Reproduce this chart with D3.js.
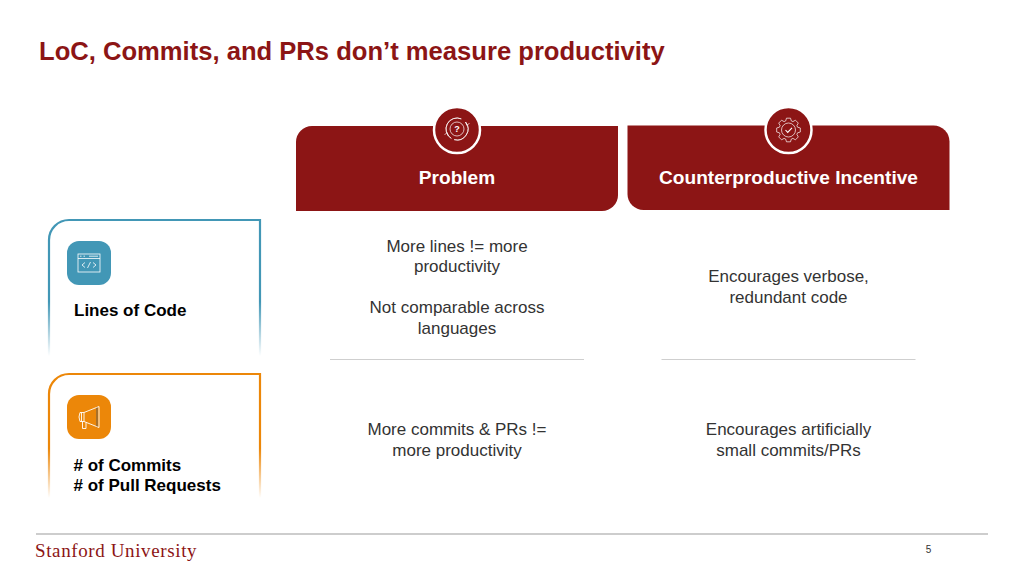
<!DOCTYPE html>
<html>
<head><meta charset="utf-8"></head>
<body style="margin: 0; background: white;">
<script src="https://d3js.org/d3.v7.min.js"></script>
<svg id="vis"></svg>

<script>

  /***** DATA *****/

  var titleText = 'LoC, Commits, and PRs don\u2019t measure productivity'
  var columns = ['Problem', 'Counterproductive Incentive']
  var rows = ['loc', 'commits']
  var rowLabels = [['Lines of Code'], ['# of Commits', '# of Pull Requests']]
  var problemCells = [
    ['More lines != more', 'productivity', '', 'Not comparable across', 'languages'],
    ['More commits & PRs !=', 'more productivity']
  ]
  var incentiveCells = [
    ['Encourages verbose,', 'redundant code'],
    ['Encourages artificially', 'small commits/PRs']
  ]
  var footerText = 'Stanford University'
  var pageNumber = '5'


  /***** SETUP *****/

  var red = '#8c1515'
  var bodyFont = '"Liberation Sans", Arial, sans-serif'

  var svg = d3.select('#vis')
    .attr('width', 1024)
    .attr('height', 576)
    .style('display', 'block')
    .style('background-color', 'white')

  var defs = svg.append('defs')

  // Column and row centres
  var colX = d3.scaleOrdinal().domain(columns).range([457, 788.5])
  var rowY = d3.scaleOrdinal().domain(rows).range([287, 439.5])
  var rowColor = d3.scaleOrdinal().domain(rows).range(['#4297b6', '#ec8709'])
  var cardTop = d3.scaleOrdinal().domain(rows).range([220, 374])
  var cardBottom = d3.scaleOrdinal().domain(rows).range([356, 498])
  var iconTop = d3.scaleOrdinal().domain(rows).range([241, 395])

  function multiLine(parent, lines, x, yCenter, lineHeight, size, weight, fill, anchor) {
    var y0 = yCenter - (lines.length - 1) * lineHeight / 2
    parent.selectAll(null)
      .data(lines)
      .enter()
      .append('text')
      .text(function (d) { return d })
      .attr('x', x)
      .attr('y', function (d, i) { return y0 + i * lineHeight })
      .attr('dy', '0.35em')
      .attr('text-anchor', anchor)
      .style('font-family', bodyFont)
      .style('font-size', size + 'px')
      .style('font-weight', weight)
      .style('fill', fill)
  }

  // Rectangle with two opposite rounded corners
  function headerPath(x0, y0, x1, y1, r, roundTopLeft) {
    var p = d3.path()
    if (roundTopLeft) {
      p.moveTo(x0 + r, y0)
      p.lineTo(x1, y0)
      p.lineTo(x1, y1 - r)
      p.arcTo(x1, y1, x1 - r, y1, r)
      p.lineTo(x0, y1)
      p.lineTo(x0, y0 + r)
      p.arcTo(x0, y0, x0 + r, y0, r)
    } else {
      p.moveTo(x0, y0)
      p.lineTo(x1 - r, y0)
      p.arcTo(x1, y0, x1, y0 + r, r)
      p.lineTo(x1, y1)
      p.lineTo(x0 + r, y1)
      p.arcTo(x0, y1, x0, y1 - r, r)
      p.lineTo(x0, y0)
    }
    p.closePath()
    return p.toString()
  }


  /***** TITLE *****/

  svg.append('text')
    .text(titleText)
    .attr('x', 39)
    .attr('y', 60)
    .style('font-family', bodyFont)
    .style('font-size', '25.6px')
    .style('font-weight', 700)
    .style('fill', red)


  /***** COLUMN HEADERS *****/

  var headers = svg.selectAll('.header')
    .data(columns)
    .enter()
    .append('g')
    .attr('class', 'header')

  headers.append('path')
    .attr('d', function (d, i) {
      return i === 0 ? headerPath(296, 126, 618, 211, 16, true) : headerPath(627.5, 125.5, 949.5, 210, 16, false)
    })
    .attr('fill', red)

  headers.append('circle')
    .attr('cx', function (d) { return colX(d) })
    .attr('cy', 130)
    .attr('r', 23)
    .attr('fill', red)
    .attr('stroke', 'white')
    .attr('stroke-width', 2.5)

  headers.append('text')
    .text(function (d) { return d })
    .attr('x', function (d) { return colX(d) })
    .attr('y', 177.5)
    .attr('dy', '0.35em')
    .attr('text-anchor', 'middle')
    .style('font-family', bodyFont)
    .style('font-size', '19.1px')
    .style('font-weight', 700)
    .style('fill', 'white')

  // Question icon
  var qIcon = svg.append('g')
    .attr('transform', 'translate(' + colX(columns[0]) + ',129)')
    .attr('fill', 'none')
    .attr('stroke', 'white')
    .attr('stroke-width', 0.7)
  qIcon.append('circle').attr('r', 7)
  qIcon.append('path').attr('d', d3.arc()({innerRadius: 11, outerRadius: 11, startAngle: -2.6, endAngle: 0.4}))
  qIcon.append('path').attr('d', d3.arc()({innerRadius: 11, outerRadius: 11, startAngle: 0.9, endAngle: 3.4}))
  qIcon.append('path').attr('d', 'M8.5,-7 L10,-3.5 L12.5,-6')
  qIcon.append('path').attr('d', 'M-8.5,7 L-10,3.5 L-12.5,6')
  qIcon.append('text')
    .text('?')
    .attr('y', 3)
    .attr('text-anchor', 'middle')
    .style('font-family', bodyFont)
    .style('font-size', '9px')
    .style('font-weight', 700)
    .style('fill', 'white')
    .style('stroke', 'none')

  // Gear icon
  var gIcon = svg.append('g')
    .attr('transform', 'translate(' + colX(columns[1]) + ',130)')
    .attr('fill', 'none')
    .attr('stroke', 'white')
    .attr('stroke-width', 0.7)
  var gearPoints = []
  d3.range(8).forEach(function (i) {
    var a = i * Math.PI / 4
    gearPoints.push([a - 0.3, 9.5], [a - 0.17, 12], [a + 0.17, 12], [a + 0.3, 9.5])
  })
  gIcon.append('path').attr('d', d3.lineRadial().curve(d3.curveLinearClosed)(gearPoints))
  gIcon.append('circle').attr('r', 7)
  gIcon.append('path').attr('d', 'M-3,0 L-0.8,2.4 L3.5,-2.2').attr('stroke-width', 1.1)


  /***** ROW CARDS *****/

  var cards = svg.selectAll('.card')
    .data(rows)
    .enter()
    .append('g')
    .attr('class', 'card')

  // Border fades out toward the bottom of the card
  rows.forEach(function (r) {
    var grad = defs.append('linearGradient')
      .attr('id', 'fade-' + r)
      .attr('gradientUnits', 'userSpaceOnUse')
      .attr('x1', 0).attr('x2', 0)
      .attr('y1', cardTop(r)).attr('y2', cardBottom(r))
    grad.append('stop').attr('offset', '0.6').attr('stop-color', rowColor(r)).attr('stop-opacity', 1)
    grad.append('stop').attr('offset', '1').attr('stop-color', rowColor(r)).attr('stop-opacity', 0)
  })

  cards.append('path')
    .attr('d', function (r) {
      var p = d3.path()
      var rad = 20
      p.moveTo(49, cardBottom(r))
      p.lineTo(49, cardTop(r) + rad)
      p.arcTo(49, cardTop(r), 49 + rad, cardTop(r), rad)
      p.lineTo(260, cardTop(r))
      p.lineTo(260, cardBottom(r))
      return p.toString()
    })
    .attr('fill', 'none')
    .attr('stroke', function (r) { return 'url(#fade-' + r + ')' })
    .attr('stroke-width', 2.2)

  cards.append('rect')
    .attr('x', 67)
    .attr('y', function (r) { return iconTop(r) })
    .attr('width', 44)
    .attr('height', 44)
    .attr('rx', 12)
    .attr('fill', function (r) { return rowColor(r) })

  // Labels
  multiLine(svg.append('g'), rowLabels[0], 74, 310, 20, 17, 700, 'black', 'start')
  multiLine(svg.append('g'), rowLabels[1], 73.5, 475, 20, 17, 700, 'black', 'start')

  // Code window icon
  var codeIcon = svg.append('g')
    .attr('transform', 'translate(89,263)')
    .attr('fill', 'none')
    .attr('stroke', 'white')
    .attr('stroke-width', 0.8)
  codeIcon.append('rect').attr('x', -11).attr('y', -9).attr('width', 22).attr('height', 18)
  codeIcon.append('path').attr('d', 'M-11,-4.5 H11 M-9,-6.8 H-7.5 M-5.5,-6.8 H-4 M0,-6.8 H9')
  codeIcon.append('path').attr('d', 'M-4,-0.5 L-7,2 L-4,4.5 M4,-0.5 L7,2 L4,4.5 M1.5,-1 L-1.5,5')

  // Megaphone icon
  var horn = svg.append('g')
    .attr('transform', 'translate(89,417)')
    .attr('fill', 'none')
    .attr('stroke', 'white')
    .attr('stroke-width', 0.9)
  horn.append('path').attr('d', 'M-5,-4.5 L10,-10.5 V10.5 L-5,4.5 Z')
  horn.append('path').attr('d', 'M-5,-4.5 H-9 Q-11,0 -9,4.5 H-5 M-7.5,-4.5 V4.5')
  horn.append('path').attr('d', 'M-6.5,4.5 V11.5 H-3 V5.5')
  horn.append('path').attr('d', 'M8,-9.5 V9.5').attr('stroke', '#555')


  /***** BODY CELLS *****/

  rows.forEach(function (r, i) {
    multiLine(svg.append('g'), problemCells[i], colX(columns[0]), rowY(r), 20.5, 17, 400, '#333333', 'middle')
    multiLine(svg.append('g'), incentiveCells[i], colX(columns[1]), i === 0 ? rowY(r) - 0.5 : rowY(r), 20.5, 17, 400, '#333333', 'middle')
  })

  // Row dividers
  svg.selectAll('.divider')
    .data(columns)
    .enter()
    .append('line')
    .attr('class', 'divider')
    .attr('x1', function (d) { return colX(d) - 127 })
    .attr('x2', function (d) { return colX(d) + 127 })
    .attr('y1', 359.5)
    .attr('y2', 359.5)
    .attr('stroke', '#cfcfcf')
    .attr('stroke-width', 1)


  /***** FOOTER *****/

  svg.append('line')
    .attr('x1', 36)
    .attr('x2', 988)
    .attr('y1', 534)
    .attr('y2', 534)
    .attr('stroke', '#bdbdbd')
    .attr('stroke-width', 1.5)

  svg.append('text')
    .text(footerText)
    .attr('x', 35)
    .attr('y', 557)
    .style('font-family', '"Liberation Serif", serif')
    .style('font-size', '19px')
    .style('letter-spacing', '0.62px')
    .style('fill', red)

  svg.append('text')
    .text(pageNumber)
    .attr('x', 928.5)
    .attr('y', 553)
    .attr('text-anchor', 'middle')
    .style('font-family', bodyFont)
    .style('font-size', '10px')
    .style('fill', '#333333')

</script>
</body>
</html>
